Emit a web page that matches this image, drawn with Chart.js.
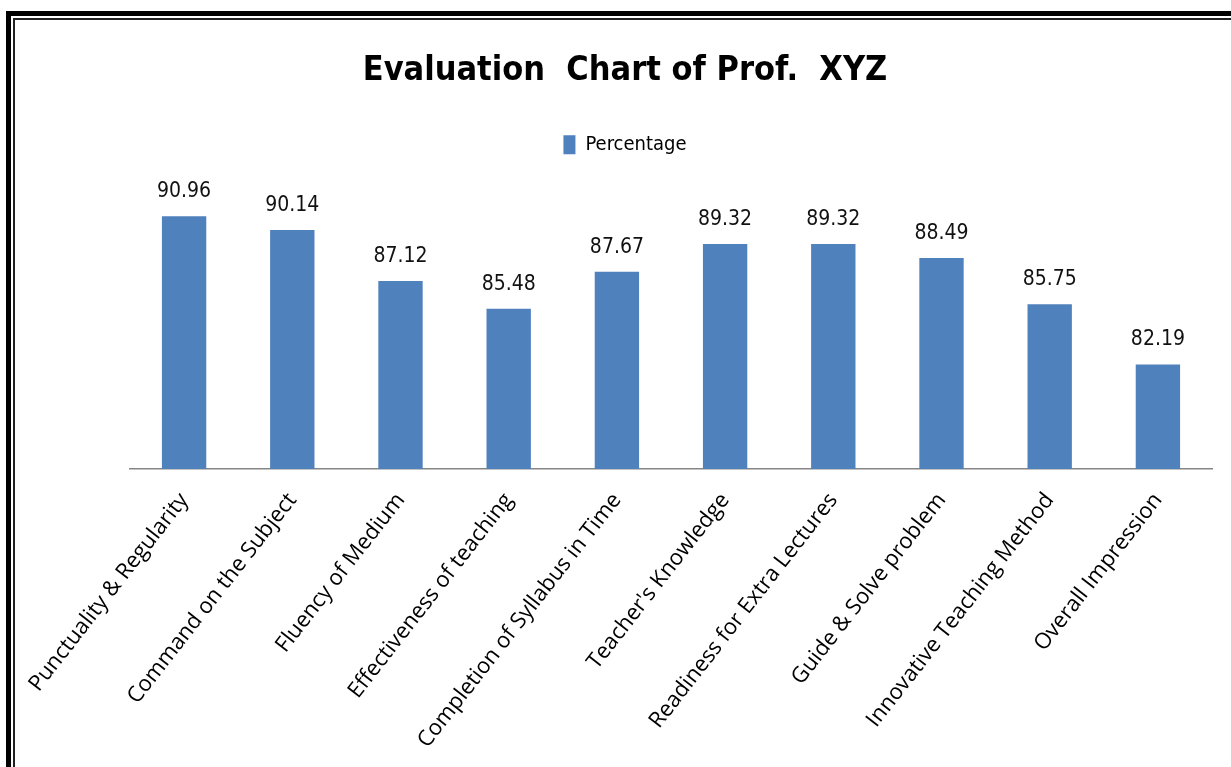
<!DOCTYPE html>
<html>
<head>
<meta charset="utf-8">
<script src="https://cdn.jsdelivr.net/npm/chart.js@4.4.1/dist/chart.umd.min.js"></script>
<style>
  html, body { margin: 0; padding: 0; background: #fff; overflow: hidden; width: 1231px; height: 767px; }
  #wrap { position: absolute; left: 0; top: 0; width: 1231px; height: 767px; }
  #frame { position: absolute; left: 6px; top: 11px; width: 1300px; height: 800px; border: 5px solid #000; pointer-events: none; }
  #frame2 { position: absolute; left: 13px; top: 18px; width: 1300px; height: 800px; border: 2px solid #222; pointer-events: none; }
</style>
</head>
<body>
<div id="wrap"><canvas id="chart" width="1231" height="767"></canvas></div>
<div id="frame"></div>
<div id="frame2"></div>
<script>
// --- Data ---
const categories = [
  "Punctuality & Regularity", "Command on the Subject", "Fluency of Medium",
  "Effectiveness of teaching", "Completion of Syllabus in Time", "Teacher's Knowledge",
  "Readiness for Extra Lectures", "Guide & Solve problem", "Innovative Teaching Method",
  "Overall Impression"
];
const percentage = [90.96, 90.14, 87.12, 85.48, 87.67, 89.32, 89.32, 88.49, 85.75, 82.19];
const seriesName = "Percentage";

const narrow = "'Liberation Sans Narrow', 'DejaVu Sans Condensed', sans-serif";

// --- value labels above bars ---
const valueLabels = {
  id: 'valueLabels',
  afterDatasetsDraw(chart) {
    const ctx = chart.ctx;
    const meta = chart.getDatasetMeta(0);
    ctx.save();
    ctx.font = "21px " + narrow;
    ctx.fillStyle = "#111";
    ctx.textAlign = "center";
    ctx.textBaseline = "alphabetic";
    meta.data.forEach((bar, i) => {
      ctx.fillText(percentage[i].toFixed(2), bar.x, bar.y - 19);
    });
    ctx.restore();
  }
};

// --- Chart ---
const chart = new Chart(document.getElementById("chart").getContext("2d"), {
  type: 'bar',
  data: {
    labels: categories,
    datasets: [{
      label: seriesName,
      data: percentage,
      backgroundColor: '#4f81bd',
      categoryPercentage: 1,
      barPercentage: 0.41
    }]
  },
  options: {
    responsive: false,
    animation: false,
    layout: { padding: { left: 38, right: 19, top: 0, bottom: 0 } },
    plugins: {
      title: {
        display: true,
        text: "Evaluation  Chart of Prof.  XYZ",
        color: '#000',
        font: { family: narrow, size: 34, weight: 'bold' },
        padding: { top: 51, bottom: 37 }
      },
      legend: {
        display: true,
        labels: {
          color: '#000',
          font: { family: narrow, size: 20 },
          boxWidth: 12,
          boxHeight: 19,
          padding: 6
        }
      },
      tooltip: { enabled: false }
    },
    scales: {
      x: {
        grid: { display: false, drawTicks: false },
        border: { display: true, color: '#868686', width: 1.5 },
        ticks: {
          color: '#000',
          font: { family: "'Open Sans', sans-serif", size: 22 },
          minRotation: 52,
          maxRotation: 52,
          padding: 19,
          autoSkip: false
        },
        afterFit(scale) { scale.height = 298; }
      },
      y: {
        display: true,
        min: 76,
        max: 94,
        grid: { display: false, drawTicks: false },
        border: { display: false },
        ticks: { display: false },
        afterFit(scale) { scale.width = 92; }
      }
    }
  },
  plugins: [valueLabels]
});
</script>
</body>
</html>
